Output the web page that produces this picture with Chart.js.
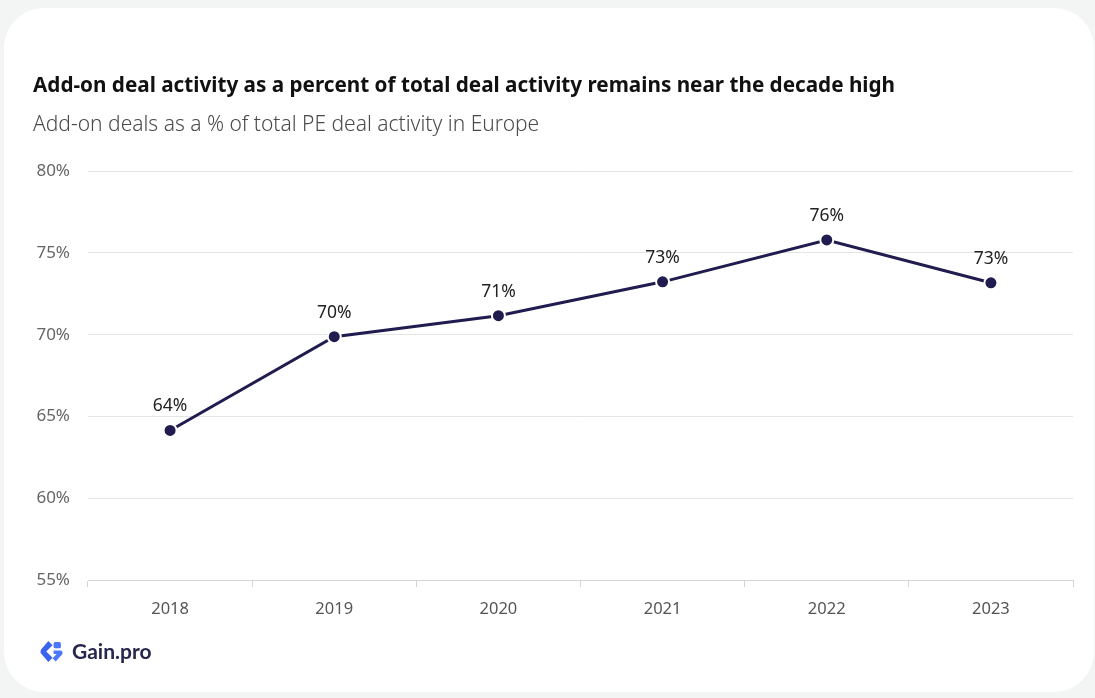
<!DOCTYPE html>
<html>
<head>
<meta charset="utf-8">
<script src="https://cdn.jsdelivr.net/npm/chart.js@4/dist/chart.umd.min.js"></script>
<style>
  html, body { margin: 0; padding: 0; }
  body { width: 1095px; height: 698px; background: #f3f4f4; position: relative; overflow: hidden; }
  .card { position: absolute; left: 4px; top: 8px; width: 1090px; height: 684px; background: #fff; border-radius: 40px; }
  .chart-box { position: absolute; left: 0; top: 0; width: 1095px; height: 640px; }
  .brand { position: absolute; left: 40px; top: 637px; height: 28px; line-height: 28px; display: flex; align-items: center; gap: 9px;
           font-family: Lato, "Noto Sans", sans-serif; font-weight: 700; font-size: 21px; color: #27264d; }
</style>
</head>
<body>
<div class="card"></div>
<div class="chart-box"><canvas id="addonShare"></canvas></div>
<div class="brand">
  <svg width="23" height="23" viewBox="0 0 22 22">
    <path d="M8 1 L1 9 Q0 11 1 13 L8 21 L12 17 L6 11 L12 5 Z" fill="#3a63f0"/>
    <rect x="13" y="2" width="7" height="6" rx="1.5" fill="#4a78ff"/>
    <path d="M13 10 L19.5 10 Q21.5 10 21.5 12 L21.5 13.5 L15 20.5 L12 17.5 L16 13.5 L13 13.5 Z" fill="#4a78ff"/>
  </svg>
  <span>Gain.pro</span>
</div>
<script>
const YEARS = ['2018', '2019', '2020', '2021', '2022', '2023']
const ADDON_SHARE = [64.15, 69.88, 71.16, 73.23, 75.79, 73.17]
const Y_TICKS = [55, 60, 65, 70, 75, 80]

const NAVY = '#201c4f'
const FONT = '"Noto Sans", sans-serif'

// writes the rounded percentage above each point
const pointLabels = {
  id: 'pointLabels',
  afterDatasetsDraw(chart) {
    const ctx = chart.ctx
    const meta = chart.getDatasetMeta(0)
    ctx.save()
    ctx.font = '17.5px ' + FONT
    ctx.fillStyle = '#222'
    ctx.textAlign = 'center'
    ctx.textBaseline = 'alphabetic'
    meta.data.forEach((pt, i) => {
      ctx.fillText(Math.round(ADDON_SHARE[i]) + '%', pt.x, pt.y - 19)
    })
    ctx.restore()
  }
}

var addonData = {
  labels: YEARS,
  datasets: [{
    label: 'Add-on share',
    data: ADDON_SHARE,
    borderColor: NAVY,
    backgroundColor: NAVY,
    borderWidth: 3,
    pointRadius: 6.5,
    pointHoverRadius: 6.5,
    pointBackgroundColor: NAVY,
    pointBorderColor: '#fff',
    pointBorderWidth: 2,
    tension: 0
  }]
}

var addonOptions = {
  responsive: true,
  maintainAspectRatio: false,
  animation: false,
  layout: {
    padding: { left: 33, right: 22, top: 74, bottom: 9 }
  },
  scales: {
    x: {
      offset: true,
      grid: {
        offset: true,
        drawOnChartArea: false,
        drawTicks: true,
        tickLength: 7,
        color: '#d6d6d6'
      },
      border: { color: '#d6d6d6' },
      ticks: {
        padding: 12,
        color: '#555',
        font: { family: FONT, size: 16.5 }
      }
    },
    y: {
      min: 55,
      max: 80,
      afterBuildTicks: (scale) => {
        scale.ticks = Y_TICKS.map(v => ({ value: v }))
      },
      afterFit: (scale) => { scale.width = 55 },
      grid: {
        color: '#e4e4e4',
        drawTicks: false
      },
      border: { display: false },
      ticks: {
        padding: 18,
        color: '#666',
        font: { family: FONT, size: 17 },
        callback: (value) => value + '%'
      }
    }
  },
  plugins: {
    legend: { display: false },
    tooltip: { enabled: false },
    title: {
      display: true,
      align: 'start',
      text: 'Add-on deal activity as a percent of total deal activity remains near the decade high',
      color: '#111',
      font: { family: FONT, size: 20.7, weight: 'bold' },
      padding: { top: 0, bottom: 14 }
    },
    subtitle: {
      display: true,
      align: 'start',
      text: 'Add-on deals as a % of total PE deal activity in Europe',
      color: '#4a4a4a',
      font: { family: FONT, size: 21, weight: '300' },
      padding: { top: 0, bottom: 33 }
    }
  }
}

const addonChart = new Chart(document.getElementById('addonShare'), {
  type: 'line',
  data: addonData,
  plugins: [pointLabels],
  options: addonOptions
})
</script>
</body>
</html>
